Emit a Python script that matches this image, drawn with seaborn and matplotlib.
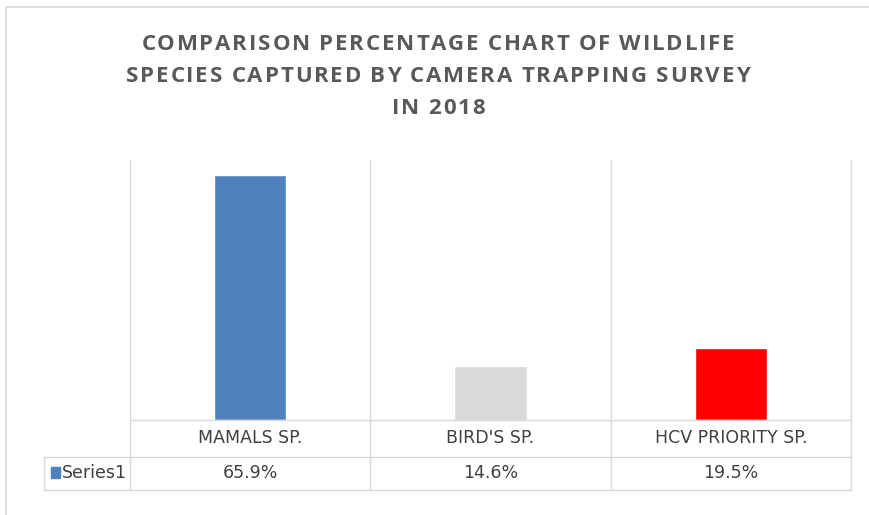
import matplotlib
matplotlib.use("Agg")
import matplotlib.pyplot as plt
from matplotlib.font_manager import FontProperties
from matplotlib.lines import Line2D
from matplotlib.patches import Rectangle
import pandas as pd
import seaborn as sns

categories = ["MAMALS SP.", "BIRD'S SP.", "HCV PRIORITY SP."]
percent = [65.9, 14.6, 19.5]
bar_colors = ["#4F81BD", "#D9D9D9", "#FF0000"]
series_name = "Series1"
title_lines = ["COMPARISON PERCENTAGE CHART OF WILDLIFE",
               "SPECIES CAPTURED BY CAMERA TRAPPING SURVEY",
               "IN 2018"]

W, H = 869, 515
GRID = "#D9D9D9"
TEXT = "#404040"


def fx(px):
    return px / W


def fy(py):
    return 1 - py / H


def spaced_text(fig, text, cx, cy, fp, tracking, color):
    # matplotlib has no letter spacing, so place the glyphs one by one
    renderer = fig.canvas.get_renderer()
    widths = [renderer.get_text_width_height_descent(c, fp, ismath=False)[0]
              for c in text]
    total = sum(widths) + tracking * (len(text) - 1)
    x = cx - total / 2
    for c, w in zip(text, widths):
        fig.text(fx(x), fy(cy), c, ha="left", va="center",
                 fontproperties=fp, color=color)
        x += w + tracking


def main() -> None:
    sns.set_style("white")
    plt.rcParams["font.family"] = ["Liberation Sans Narrow", "DejaVu Sans"]

    df = pd.DataFrame({"cat": categories, "pct": percent})

    fig = plt.figure(figsize=(W / 100, H / 100), dpi=100)
    ax = fig.add_axes([fx(130), fy(420), fx(851) - fx(130), fy(160) - fy(420)])

    sns.barplot(data=df, x="cat", y="pct", hue="cat", palette=bar_colors,
                width=0.3, legend=False, ax=ax, saturation=1)
    ax.set_ylim(0, 70)
    ax.set_xlim(-0.5, len(categories) - 0.5)
    ax.set_xticks([])
    ax.set_yticks([])
    ax.set_xlabel("")
    ax.set_ylabel("")
    for s in ax.spines.values():
        s.set_visible(False)

    # outer chart frame
    fig.add_artist(Rectangle((fx(6), fy(520)), fx(880) - fx(6), fy(7) - fy(520),
                             transform=fig.transFigure, fill=False,
                             edgecolor="#D9D9D9", lw=1.2))

    # vertical category separators running through the data table
    x_left, x_right = 130, 851
    step = (x_right - x_left) / len(categories)
    for i in range(len(categories) + 1):
        x = x_left + i * step
        fig.add_artist(Line2D([fx(x), fx(x)], [fy(160), fy(490)], color=GRID, lw=1))
    fig.add_artist(Line2D([fx(44), fx(44)], [fy(457), fy(490)], color=GRID, lw=1))
    # horizontal table lines
    fig.add_artist(Line2D([fx(130), fx(851)], [fy(420), fy(420)], color=GRID, lw=1))
    for y in (457, 490):
        fig.add_artist(Line2D([fx(44), fx(851)], [fy(y), fy(y)], color=GRID, lw=1))

    for i, (cat, val) in enumerate(zip(categories, percent)):
        cx = x_left + (i + 0.5) * step
        fig.text(fx(cx), fy(438), cat, ha="center", va="center",
                 fontsize=12.5, color=TEXT)
        fig.text(fx(cx), fy(473), f"{val:.1f}%", ha="center", va="center",
                 fontsize=12.5, color=TEXT)

    # legend key in the table
    fig.add_artist(Rectangle((fx(51), fy(478)), fx(9), fy(0) - fy(11),
                             transform=fig.transFigure, color=bar_colors[0]))
    fig.text(fx(62), fy(473), series_name, ha="left", va="center",
             fontsize=12.5, color=TEXT)

    fp = FontProperties(family=["Open Sans", "DejaVu Sans"], weight="bold", size=16)
    for line, cy in zip(title_lines, (45, 77, 108)):
        spaced_text(fig, line, 438, cy, fp, 1.8, "#595959")

    fig.savefig("out.png", dpi=100)
    plt.close(fig)


if __name__ == "__main__":
    main()
